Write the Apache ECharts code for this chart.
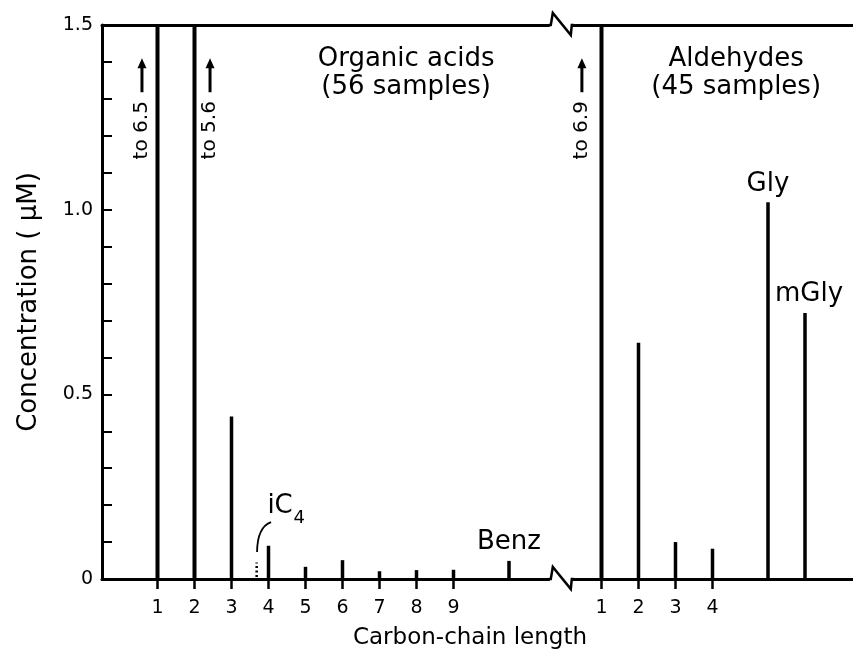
<!DOCTYPE html>
<html>
<head>
<meta charset="utf-8">
<script src="https://cdn.jsdelivr.net/npm/echarts@6/dist/echarts.min.js"></script>
<style>
  html, body { margin: 0; padding: 0; background: #fff; }
  #chart { width: 853px; height: 666px; }
</style>
</head>
<body>
<div id="chart"></div>
<script>
// Organic acids (56 samples): carbon-chain length 1..9, then benzoic acid
const acidPos   = [1, 2, 3, 4, 5, 6, 7, 8, 9, 10.5];
const acidConc  = [6.5, 5.6, 0.44, 0.09, 0.033, 0.051, 0.021, 0.024, 0.025, 0.049];
const acidNames = ['', '', '', '', '', '', '', '', '', 'Benz'];

// Aldehydes (45 samples): chain length 1..4, glyoxal, methylglyoxal (after the axis break)
const aldPos   = [13, 14, 15, 16, 17.5, 18.5];
const aldConc  = [6.9, 0.64, 0.10, 0.082, 1.02, 0.72];
const aldNames = ['', '', '', '', 'Gly', 'mGly'];

// isobutyric acid, drawn dotted just left of C4
const iC4Pos  = 3.68;
const iC4Conc = 0.045;

// group headings
const groupTitles = ['Organic acids\n(56 samples)', 'Aldehydes\n(45 samples)'];
const groupTitleAt = [[7.72, 1.37], [16.64, 1.37]];

// axis ticks and labels
const xTickPos    = [1, 2, 3, 4, 5, 6, 7, 8, 9, 13, 14, 15, 16];
const xTickLabels = ['1', '2', '3', '4', '5', '6', '7', '8', '9', '1', '2', '3', '4'];
const yTickPos    = [0, 0.1, 0.2, 0.3, 0.4, 0.5, 0.6, 0.7, 0.8, 0.9, 1.0, 1.1, 1.2, 1.3, 1.4, 1.5];
const yLabelPos   = [0, 0.5, 1.0, 1.5];
const yLabelText  = ['0', '0.5', '1.0', '1.5'];
const yMax = 1.5;
const breakAt = 11.9;

const SANS = '"DejaVu Sans", "Liberation Sans", sans-serif';

const acidData = acidPos.map((p, i) => [p, acidConc[i]]);
const aldData  = aldPos.map((p, i) => [p, aldConc[i]]);
const offScale = acidData.concat(aldData).filter(d => d[1] > yMax);

// horizontal side of the "to x.x" note for each off-scale stem
const noteSide = { 1: -0.42, 2: 0.42, 13: -0.53 };
// small horizontal nudge for a few names
const nameNudge = { mGly: 4 };

function stemRenderer(names) {
  return function (params, api) {
    const x = api.value(0), y = api.value(1);
    const p0 = api.coord([x, 0]);
    const p1 = api.coord([x, y]);
    const w = y > yMax ? 4 : 3.5;
    const children = [{
      type: 'line',
      shape: { x1: p0[0], y1: p0[1], x2: p1[0], y2: p1[1] },
      style: { stroke: '#000', lineWidth: w }
    }];
    const name = names[params.dataIndex];
    if (name) {
      children.push({
        type: 'text',
        x: p1[0] + (nameNudge[name] || 0),
        y: p1[1] - 18.5,
        style: { text: name, fill: '#000', font: '26px ' + SANS, align: 'center', verticalAlign: 'middle' }
      });
    }
    return { type: 'group', children };
  };
}

function renderNote(params, api) {
  const x = api.value(0), v = api.value(1);
  const nx = x + (noteSide[x] || -0.45);
  const t = api.coord([nx, 1.215]);
  const a0 = api.coord([nx, 1.318]);
  const a1 = api.coord([nx, 1.41]);
  const headLen = 10, headHalf = 4.5;
  return {
    type: 'group',
    children: [
      {
        type: 'text', x: t[0], y: t[1], rotation: Math.PI / 2,
        style: { text: 'to ' + v.toFixed(1), fill: '#000', font: '20px ' + SANS, align: 'center', verticalAlign: 'middle' }
      },
      {
        type: 'line',
        shape: { x1: a0[0], y1: a0[1], x2: a1[0], y2: a1[1] + headLen - 1 },
        style: { stroke: '#000', lineWidth: 3 }
      },
      {
        type: 'polygon',
        shape: { points: [[a1[0], a1[1]], [a1[0] - headHalf, a1[1] + headLen], [a1[0] + headHalf, a1[1] + headLen]] },
        style: { fill: '#000' }
      }
    ]
  };
}

function renderIC4(params, api) {
  const b = api.coord([iC4Pos, 0]);
  const t = api.coord([iC4Pos, iC4Conc]);
  const c0 = api.coord([3.69, 0.073]);
  const cc = api.coord([3.70, 0.141]);
  const c1 = api.coord([4.07, 0.154]);
  const lab = api.coord([3.97, 0.196]);
  return {
    type: 'group',
    children: [
      {
        type: 'line',
        shape: { x1: b[0], y1: b[1] - 2, x2: t[0], y2: t[1] },
        style: { stroke: '#000', lineWidth: 2.5, lineDash: [2, 2.5] }
      },
      {
        type: 'bezierCurve',
        shape: { x1: c0[0], y1: c0[1], cpx1: cc[0], cpy1: cc[1], x2: c1[0], y2: c1[1] },
        style: { stroke: '#000', lineWidth: 1.8, fill: null }
      },
      {
        type: 'text', x: lab[0], y: lab[1],
        style: { text: 'iC', fill: '#000', font: '26px ' + SANS, align: 'left', verticalAlign: 'middle' }
      },
      {
        type: 'text', x: lab[0] + 26, y: lab[1] + 12,
        style: { text: '4', fill: '#000', font: '18px ' + SANS, align: 'left', verticalAlign: 'middle' }
      }
    ]
  };
}

function renderBreak(params, api) {
  const p = api.coord([api.value(0), api.value(1)]);
  const cx = p[0], cy = p[1];
  return {
    type: 'group',
    children: [
      { type: 'rect', shape: { x: cx - 11, y: cy - 3, width: 22, height: 6 }, style: { fill: '#fff' } },
      {
        type: 'polyline',
        shape: { points: [[cx - 12, cy], [cx - 10, cy], [cx - 8, cy - 12], [cx + 10, cy + 10], [cx + 11, cy], [cx + 13, cy]] },
        style: { stroke: '#000', lineWidth: 2.5, fill: null, lineJoin: 'miter' }
      }
    ]
  };
}

function renderTitle(params, api) {
  const p = api.coord([api.value(0), api.value(1)]);
  return {
    type: 'text', x: p[0], y: p[1],
    style: { text: groupTitles[params.dataIndex], fill: '#000', font: '26px ' + SANS, align: 'center', verticalAlign: 'middle', lineHeight: 28 }
  };
}

const chart = echarts.init(document.getElementById('chart'));
chart.setOption({
  backgroundColor: '#fff',
  animation: false,
  grid: { left: 102, top: 25, width: 758.5, height: 554, containLabel: false, outerBoundsMode: 'none' },
  xAxis: [
    {
      type: 'value', min: -0.5, max: 20, position: 'bottom',
      axisLine: { show: true, onZero: false, lineStyle: { color: '#000', width: 3 } },
      axisTick: { show: true, customValues: xTickPos, inside: false, length: 10, lineStyle: { color: '#000', width: 2.5 } },
      axisLabel: {
        show: true, customValues: xTickPos, margin: 20, color: '#000', fontFamily: SANS, fontSize: 19,
        formatter: v => xTickLabels[xTickPos.indexOf(v)]
      },
      splitLine: { show: false }
    },
    {
      type: 'value', min: -0.5, max: 20, position: 'top',
      axisLine: { show: true, onZero: false, lineStyle: { color: '#000', width: 3 } },
      axisTick: { show: false }, axisLabel: { show: false }, splitLine: { show: false }
    }
  ],
  yAxis: {
    type: 'value', min: 0, max: yMax, position: 'left',
    name: 'Concentration ( µM)', nameLocation: 'middle', nameGap: 60,
    nameTextStyle: { color: '#000', fontFamily: SANS, fontSize: 26 },
    axisLine: { show: true, onZero: false, lineStyle: { color: '#000', width: 3 } },
    axisTick: { show: true, customValues: yTickPos, inside: true, length: 10, lineStyle: { color: '#000', width: 2 } },
    axisLabel: {
      show: true, customValues: yLabelPos, margin: 9, color: '#000', fontFamily: SANS, fontSize: 19,
      padding: [5, 0, 0, 0],
      formatter: v => yLabelText[yLabelPos.findIndex(p => Math.abs(p - v) < 1e-9)]
    },
    splitLine: { show: false }
  },
  graphic: [{
    type: 'text', x: 470, y: 638,
    style: { text: 'Carbon-chain length', fill: '#000', font: '23px ' + SANS, align: 'center', verticalAlign: 'middle' }
  }],
  series: [
    { type: 'custom', name: 'Organic acids', renderItem: stemRenderer(acidNames), data: acidData, clip: true, z: 3 },
    { type: 'custom', name: 'Aldehydes', renderItem: stemRenderer(aldNames), data: aldData, clip: true, z: 3 },
    { type: 'custom', name: 'off-scale', renderItem: renderNote, data: offScale, clip: false, z: 3 },
    { type: 'custom', name: 'iC4', renderItem: renderIC4, data: [[iC4Pos, iC4Conc]], clip: false, z: 3 },
    { type: 'custom', name: 'break', renderItem: renderBreak, data: [[breakAt, yMax], [breakAt, 0]], clip: false, z: 5 },
    { type: 'custom', name: 'group titles', renderItem: renderTitle, data: groupTitleAt, clip: false, z: 3 }
  ]
});
</script>
</body>
</html>
